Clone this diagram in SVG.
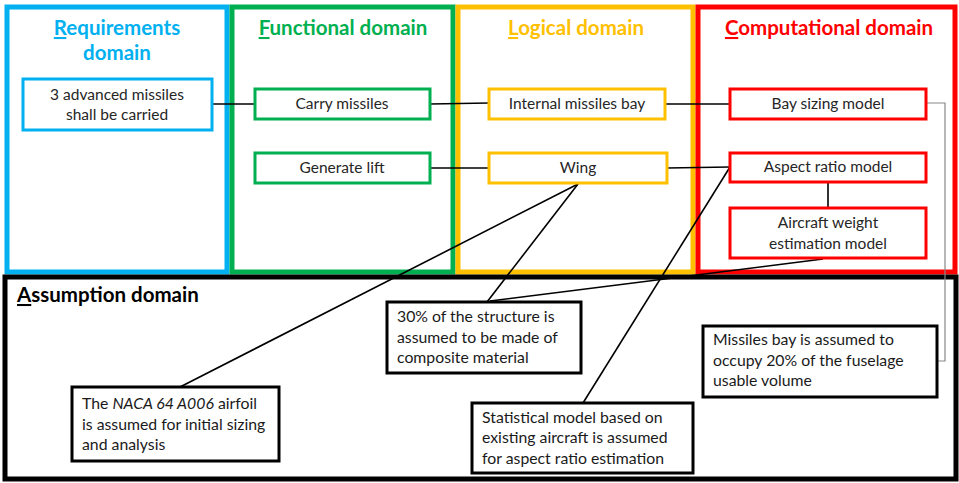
<svg xmlns="http://www.w3.org/2000/svg" width="959" height="483" viewBox="0 0 959 483">
<style>
.dom{fill:none;stroke-width:5}
.title{font-family:Lato,"Liberation Sans",sans-serif;font-weight:bold;font-size:20.5px;text-anchor:middle}
.node{fill:#fff;stroke-width:3}
.nt{font-family:Lato,"Liberation Sans",sans-serif;font-size:15.5px;fill:#262626;text-anchor:middle}
.at{font-family:Lato,"Liberation Sans",sans-serif;font-size:15.8px;fill:#1a1a1a}
.abox{fill:#fff;stroke:#000;stroke-width:3}
.u{text-decoration:underline}
.c{stroke:#000;stroke-width:1.6;fill:none}
</style>
<rect width="959" height="483" fill="#fff"/>
<g id="requirements-domain">
<rect class="dom" x="7" y="7" width="220" height="265" stroke="#00B0F0"/>
<text class="title" fill="#00B0F0" x="117" y="35"><tspan class="u">R</tspan>equirements</text>
<text class="title" fill="#00B0F0" x="117" y="60">domain</text>
</g>
<g id="functional-domain">
<rect class="dom" x="232" y="7" width="221" height="265" stroke="#00B050"/>
<text class="title" fill="#00B050" x="343" y="35"><tspan class="u">F</tspan>unctional domain</text>
</g>
<g id="logical-domain">
<rect class="dom" x="458" y="7" width="235" height="265" stroke="#FFC000"/>
<text class="title" fill="#FFC000" x="576" y="35"><tspan class="u">L</tspan>ogical domain</text>
</g>
<g id="computational-domain">
<rect class="dom" x="698" y="7" width="257" height="265" stroke="#FF0000"/>
<text class="title" fill="#FF0000" x="829" y="35"><tspan class="u">C</tspan>omputational domain</text>
</g>
<g id="assumption-domain">
<rect class="dom" x="5" y="277" width="951" height="202" stroke="#000"/>
<text class="title" fill="#000" x="17" y="302" style="text-anchor:start"><tspan class="u">A</tspan>ssumption domain</text>
</g>
<g id="connectors">
<line class="c" x1="212" y1="104" x2="255" y2="104"/>
<line class="c" x1="430" y1="104" x2="489" y2="103"/>
<line class="c" x1="430" y1="168" x2="489" y2="168"/>
<line class="c" x1="665" y1="104" x2="730" y2="104"/>
<line class="c" x1="667" y1="168" x2="730" y2="167"/>
<line class="c" x1="828" y1="182" x2="828" y2="208"/>
<polyline points="926,103 945,103 945,361 937,361" fill="none" stroke="#888" stroke-width="1.2"/>
<line class="c" x1="578" y1="184" x2="180" y2="387"/>
<line class="c" x1="578" y1="184" x2="487" y2="302"/>
<line class="c" x1="823" y1="259" x2="490" y2="301"/>
<line class="c" x1="730" y1="167" x2="583" y2="403"/>
</g>
<g id="node-req">
<rect class="node" x="23" y="79" width="189" height="51" stroke="#00B0F0"/>
<text class="nt" x="117" y="100">3 advanced missiles</text>
<text class="nt" x="117" y="120">shall be carried</text>
</g>
<g id="node-carry">
<rect class="node" x="255" y="89" width="175" height="30" stroke="#00B050"/>
<text class="nt" x="342" y="109">Carry missiles</text>
</g>
<g id="node-lift">
<rect class="node" x="255" y="153" width="175" height="30" stroke="#00B050"/>
<text class="nt" x="342" y="173">Generate lift</text>
</g>
<g id="node-bay">
<rect class="node" x="489" y="89" width="176" height="30" stroke="#FFC000"/>
<text class="nt" x="577" y="109">Internal missiles bay</text>
</g>
<g id="node-wing">
<rect class="node" x="489" y="153" width="178" height="30" stroke="#FFC000"/>
<text class="nt" x="578" y="173">Wing</text>
</g>
<g id="node-baysizing">
<rect class="node" x="730" y="89" width="196" height="30" stroke="#FF0000"/>
<text class="nt" x="828" y="109">Bay sizing model</text>
</g>
<g id="node-aspect">
<rect class="node" x="730" y="153" width="196" height="29" stroke="#FF0000"/>
<text class="nt" x="828" y="172">Aspect ratio model</text>
</g>
<g id="node-weight">
<rect class="node" x="730" y="208" width="196" height="50" stroke="#FF0000"/>
<text class="nt" x="828" y="228">Aircraft weight</text>
<text class="nt" x="828" y="249">estimation model</text>
</g>
<g id="assume-composite">
<rect class="abox" x="387" y="302" width="194" height="71"/>
<text class="at" x="397" y="322">30% of the structure is</text>
<text class="at" x="397" y="343">assumed to be made of</text>
<text class="at" x="397" y="363">composite material</text>
</g>
<g id="assume-naca">
<rect class="abox" x="72" y="387" width="207" height="74"/>
<text class="at" x="82" y="409">The <tspan font-style="italic">NACA 64 A006</tspan> airfoil</text>
<text class="at" x="82" y="430">is assumed for initial sizing</text>
<text class="at" x="82" y="450">and analysis</text>
</g>
<g id="assume-statistical">
<rect class="abox" x="472" y="403" width="221" height="70"/>
<text class="at" x="482" y="423">Statistical model based on</text>
<text class="at" x="482" y="443">existing aircraft is assumed</text>
<text class="at" x="482" y="464">for aspect ratio estimation</text>
</g>
<g id="assume-missilesbay">
<rect class="abox" x="703" y="326" width="234" height="71"/>
<text class="at" x="713" y="345">Missiles bay is assumed to</text>
<text class="at" x="713" y="366">occupy 20% of the fuselage</text>
<text class="at" x="713" y="386">usable volume</text>
</g>
</svg>
